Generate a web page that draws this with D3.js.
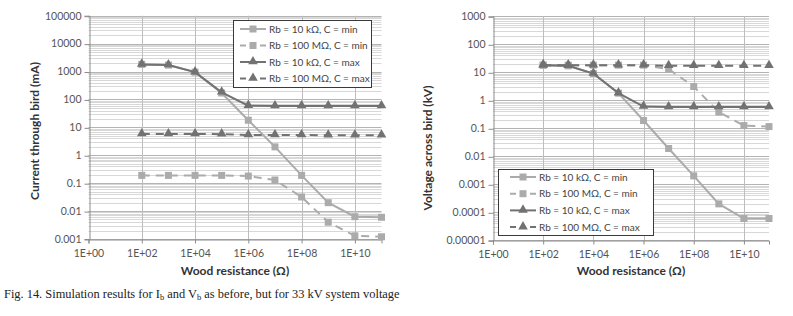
<!DOCTYPE html>
<html>
<head>
<meta charset="utf-8">
<script src="https://cdn.jsdelivr.net/npm/d3@7"></script>
<style>
  body { margin: 0; background: #fff; }
  svg { display: block; }
</style>
</head>
<body>
<svg id="chart-svg" width="793" height="316"></svg>
<script>
// x values (wood resistance, ohm)
const woodRes = [1e2, 1e3, 1e4, 1e5, 1e6, 1e7, 1e8, 1e9, 1e10, 1e11];
const xTickLabels = ['1E+00', '1E+02', '1E+04', '1E+06', '1E+08', '1E+10'];

// current through bird (mA)
const curMin10k = [1800, 1700, 950, 170, 18, 2, 0.19, 0.02, 0.0063, 0.006];
const curMin100M = [0.19, 0.19, 0.19, 0.19, 0.18, 0.13, 0.032, 0.004, 0.0013, 0.0012];
const curMax10k = [1800, 1700, 950, 180, 60, 58, 58, 58, 58, 58];
const curMax100M = [5.8, 5.8, 5.8, 5.7, 5.3, 5.3, 5.3, 5.2, 5.2, 5.2];
const curTickLabels = ['100000', '10000', '1000', '100', '10', '1', '0.1', '0.01', '0.001'];

// voltage across bird (kV)
const volMin10k = [18, 17, 9, 1.8, 0.19, 0.019, 0.002, 0.0002, 0.00006, 0.00006];
const volMin100M = [18, 18, 18, 18, 18, 13, 3.1, 0.38, 0.125, 0.115];
const volMax10k = [18, 17, 9, 1.8, 0.6, 0.58, 0.58, 0.58, 0.58, 0.58];
const volMax100M = [18, 18, 18, 18, 18, 17, 17, 17, 17, 17];
const volTickLabels = ['1000', '100', '10', '1', '0.1', '0.01', '0.001', '0.0001', '0.00001'];

const seriesNames = ['Rb = 10 k\u03A9, C = min', 'Rb = 100 M\u03A9, C = min', 'Rb = 10 k\u03A9, C = max', 'Rb = 100 M\u03A9, C = max'];

const light = '#ababab';
const dark = '#727272';
const styles = [
  {color: light, dash: null, marker: 'square'},
  {color: light, dash: '8,6', marker: 'square'},
  {color: dark, dash: null, marker: 'triangle'},
  {color: dark, dash: '8,6', marker: 'triangle'}
];

const svg = d3.select('#chart-svg');
const font = 'Lato, "Open Sans", sans-serif';

function drawChart(cfg) {
  const g = svg.append('g');
  const x = d3.scaleLog().domain([1, 1e11]).range(cfg.xRange);
  const yVals = cfg.yTicks.map(Number);
  const y = d3.scaleLog().domain(d3.extent(yVals)).range(cfg.yRange);
  const [top, bottom] = [cfg.yRange[1], cfg.yRange[0]];
  const [left, right] = cfg.xRange;

  // minor horizontal grid
  const minor = [];
  yVals.slice(1).forEach(v => { for (let k = 2; k < 10; k++) minor.push(v * k); });
  g.selectAll('.minor').data(minor).enter().append('line')
    .attr('x1', left).attr('x2', right)
    .attr('y1', d => Math.round(y(d)) + 0.5).attr('y2', d => Math.round(y(d)) + 0.5)
    .attr('stroke', '#d8d8d8').attr('stroke-width', 1);

  // major horizontal grid
  g.selectAll('.major').data(yVals).enter().append('line')
    .attr('x1', left).attr('x2', right)
    .attr('y1', d => Math.round(y(d)) + 0.5).attr('y2', d => Math.round(y(d)) + 0.5)
    .attr('stroke', '#b4b4b4').attr('stroke-width', 1);

  // vertical grid
  const xVals = xTickLabels.map(Number);
  g.selectAll('.vgrid').data(xVals.slice(1)).enter().append('line')
    .attr('x1', d => Math.round(x(d)) + 0.5).attr('x2', d => Math.round(x(d)) + 0.5)
    .attr('y1', top).attr('y2', bottom)
    .attr('stroke', '#bdbdbd').attr('stroke-width', 1);

  // y axis
  const yAxis = g.append('g')
    .attr('transform', 'translate(' + (Math.round(left) + 0.5) + ',0)')
    .call(d3.axisLeft(y).tickValues(yVals).tickFormat((d, i) => cfg.yTicks[i]).tickSize(5).tickPadding(3));
  yAxis.select('.domain').attr('stroke', '#8c8c8c');
  yAxis.selectAll('.tick line').attr('stroke', '#8c8c8c').attr('transform', 'translate(0,0.5)');
  yAxis.selectAll('text').attr('fill', '#555').style('font-family', font).style('font-size', '10.5px');

  // x axis
  const xAxis = g.append('g')
    .attr('transform', 'translate(0,' + (Math.round(bottom) + 0.5) + ')')
    .call(d3.axisBottom(x).tickValues(xVals).tickFormat((d, i) => xTickLabels[i]).tickSize(4).tickPadding(6));
  xAxis.select('.domain').attr('stroke', '#8c8c8c');
  xAxis.selectAll('.tick line').attr('stroke', '#8c8c8c');
  xAxis.selectAll('text').attr('fill', '#555').style('font-family', font).style('font-size', '10.5px');

  // titles
  g.append('text')
    .attr('x', (left + right) / 2).attr('y', 275)
    .attr('text-anchor', 'middle')
    .style('font-family', font).style('font-size', '12px').style('font-weight', 'bold')
    .attr('fill', '#333')
    .text('Wood resistance (\u03A9)');
  g.append('text')
    .attr('transform', 'translate(' + cfg.yTitleX + ',' + cfg.yTitleY + ') rotate(-90)')
    .attr('text-anchor', 'middle')
    .style('font-family', font).style('font-size', '12px').style('font-weight', 'bold')
    .attr('fill', '#333')
    .text(cfg.yTitle);

  // series
  const line = d3.line().x((d, i) => x(woodRes[i])).y(d => y(d));
  cfg.series.forEach((data, si) => {
    const st = styles[si];
    g.append('path').datum(data)
      .attr('fill', 'none').attr('stroke', st.color).attr('stroke-width', 2)
      .attr('stroke-dasharray', st.dash)
      .attr('d', line);
    drawMarkers(g, data.map((d, i) => [x(woodRes[i]), y(d)]), st);
  });

  // legend
  const lg = g.append('g').attr('transform', 'translate(' + cfg.legend.x + ',' + cfg.legend.y + ')');
  lg.append('rect').attr('x', 0.5).attr('y', 0.5)
    .attr('width', cfg.legend.w).attr('height', cfg.legend.h)
    .attr('fill', '#fff').attr('stroke', '#3a3a3a').attr('stroke-width', 1);
  seriesNames.forEach((name, i) => {
    const ly = cfg.legend.y0 + i * cfg.legend.step;
    const st = styles[i];
    lg.append('line').attr('x1', cfg.legend.lx).attr('x2', cfg.legend.lx + 26)
      .attr('y1', ly).attr('y2', ly)
      .attr('stroke', st.color).attr('stroke-width', 2)
      .attr('stroke-dasharray', st.dash ? '6,4' : null);
    drawMarkers(lg, [[cfg.legend.lx + 13, ly]], st);
    lg.append('text').attr('x', cfg.legend.lx + 29).attr('y', ly + 3.6)
      .style('font-family', font).style('font-size', '10px').attr('fill', '#444')
      .text(name);
  });
}

function drawMarkers(g, pts, st) {
  if (st.marker === 'square') {
    g.selectAll(null).data(pts).enter().append('rect')
      .attr('x', d => d[0] - 3.5).attr('y', d => d[1] - 3.5)
      .attr('width', 7).attr('height', 7)
      .attr('fill', st.color);
  } else {
    const tri = d3.symbol().type(d3.symbolTriangle).size(40);
    g.selectAll(null).data(pts).enter().append('path')
      .attr('transform', d => 'translate(' + d[0] + ',' + (d[1] - 0.5) + ')')
      .attr('d', tri)
      .attr('fill', st.color);
  }
}

drawChart({
  xRange: [88.5, 381.5],
  yRange: [239, 15.7],
  yTicks: curTickLabels,
  yTitle: 'Current through bird (mA)',
  yTitleX: 39, yTitleY: 131,
  series: [curMin10k, curMin100M, curMax10k, curMax100M],
  legend: {x: 233, y: 20, w: 138, h: 67, lx: 7, y0: 9, step: 16.5}
});

drawChart({
  xRange: [493, 769],
  yRange: [240.3, 16.3],
  yTicks: volTickLabels,
  yTitle: 'Voltage across bird (kV)',
  yTitleX: 432, yTitleY: 148,
  series: [volMin10k, volMin100M, volMax10k, volMax100M],
  legend: {x: 498, y: 169, w: 155, h: 66, lx: 12, y0: 8, step: 16.7}
});

// caption
const cap = svg.append('text')
  .attr('x', 4).attr('y', 298)
  .style('font-family', '"Liberation Serif", "Times New Roman", serif')
  .style('font-size', '12.4px').attr('fill', '#222');
cap.append('tspan').text('Fig. 14. Simulation results for I');
cap.append('tspan').attr('dy', 2).style('font-size', '8.5px').text('b');
cap.append('tspan').attr('dy', -2).text(' and V');
cap.append('tspan').attr('dy', 2).style('font-size', '8.5px').text('b');
cap.append('tspan').attr('dy', -2).text(' as before, but for 33 kV system voltage');
</script>
</body>
</html>
